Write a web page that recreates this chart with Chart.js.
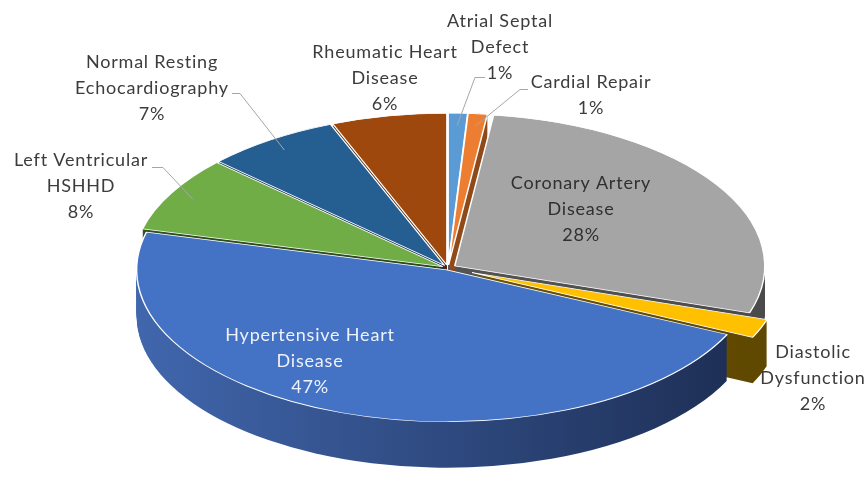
<!DOCTYPE html>
<html lang="en">
  <head>
    <meta charset="UTF-8" />
    <title>Echo diagnoses</title>
    <script src="https://cdn.jsdelivr.net/npm/chart.js"></script>
    <style>
      html, body { margin: 0; padding: 0; background: #ffffff; }
      #wrap { width: 866px; height: 497px; }
    </style>
  </head>
  <body>
    <div id="wrap"><canvas id="pieChart" width="866" height="497"></canvas></div>
    <script>
      // data, in Excel order (clockwise from 12 o'clock)
      const categories = [
        "Atrial Septal Defect",
        "Cardial Repair",
        "Coronary Artery Disease",
        "Diastolic Dysfunction",
        "Hypertensive Heart Disease",
        "Left Ventricular HSHHD",
        "Normal Resting Echocardiography",
        "Rheumatic Heart Disease",
      ];
      const percents = [1, 1, 28, 2, 47, 8, 7, 6];

      // how the category names are wrapped in the labels
      const labelLines = [
        ["Atrial Septal", "Defect"],
        ["Cardial Repair"],
        ["Coronary Artery", "Disease"],
        ["Diastolic", "Dysfunction"],
        ["Hypertensive Heart", "Disease"],
        ["Left Ventricular", "HSHHD"],
        ["Normal Resting", "Echocardiography"],
        ["Rheumatic Heart", "Disease"],
      ];

      // styles
      const topColors = ["#5B9BD5", "#ED7D31", "#A5A5A5", "#FFC000", "#4472C4", "#70AD47", "#255E91", "#9E480E"];
      const sideLeft = ["#3b6e9e", "#a8561f", "#5e5e5e", "#7f6000", "#4167ae", "#2f4f1c", "#173b5d", "#5e2b08"];
      const sideRight = ["#2b5279", "#7a3d14", "#4a4a4a", "#5e4700", "#1b2b4f", "#2a4419", "#102a44", "#4a2106"];
      const explode = [6, 6, 8, 26, 4, 6, 6, 6];
      const labelColors = ["#3c3c3c", "#3c3c3c", "#303030", "#3c3c3c", "#eef2fa", "#3c3c3c", "#3c3c3c", "#3c3c3c"];
      // centre x and first-line y of each label
      const labelPos = [
        [500, 21], [591, 82], [581, 183], [813, 352],
        [310, 335], [81, 160], [152, 62], [385, 52],
      ];
      // leader lines: [x text side, x elbow, y]
      const leaders = { 0: [485, 475, 77], 1: [528, 520, 89], 5: [152, 163, 167], 6: [232, 240, 93] };

      const TILT = 0.49;    // vertical squash of the pie
      const DEPTH = 46;     // thickness in screen px
      const LINE_H = 26;

      const pie3d = {
        id: "pie3d",
        afterDatasetsUpdate(chart) {
          const arcs = chart.getDatasetMeta(0).data;
          arcs.forEach((arc, i) => {
            const mid = (arc.startAngle + arc.endAngle) / 2;
            arc.x += Math.cos(mid) * explode[i];
            arc.y += Math.sin(mid) * explode[i];
          });
        },
        beforeDatasetsDraw(chart) {
          const ctx = chart.ctx;
          const area = chart.chartArea;
          const cy = (area.top + area.bottom) / 2;
          const arcs = chart.getDatasetMeta(0).data;
          ctx.save();
          ctx.translate(0, cy);
          ctx.scale(1, TILT);
          ctx.translate(0, -cy);

          // side walls, back slices first
          const order = arcs.map((a, i) => i).sort((a, b) => {
            const ma = (arcs[a].startAngle + arcs[a].endAngle) / 2;
            const mb = (arcs[b].startAngle + arcs[b].endAngle) / 2;
            return Math.sin(ma) - Math.sin(mb);
          });
          order.forEach((i) => {
            const arc = arcs[i];
            const grad = ctx.createLinearGradient(area.left + 100, 0, area.right - 90, 0);
            grad.addColorStop(0, sideLeft[i]);
            grad.addColorStop(1, sideRight[i]);
            ctx.fillStyle = grad;
            for (let t = DEPTH; t >= 1; t--) {
              const dy = t / TILT;
              ctx.beginPath();
              ctx.moveTo(arc.x, arc.y + dy);
              ctx.arc(arc.x, arc.y + dy, arc.outerRadius, arc.startAngle, arc.endAngle);
              ctx.closePath();
              ctx.fill();
            }
          });
        },
        afterDatasetsDraw(chart) {
          chart.ctx.restore();
        },
        afterDraw(chart) {
          const ctx = chart.ctx;
          const area = chart.chartArea;
          const cy = (area.top + area.bottom) / 2;
          const arcs = chart.getDatasetMeta(0).data;

          // leader lines
          ctx.save();
          ctx.strokeStyle = "#a6a6a6";
          ctx.lineWidth = 1;
          Object.keys(leaders).forEach((key) => {
            const i = +key;
            const arc = arcs[i];
            const mid = (arc.startAngle + arc.endAngle) / 2;
            const r = arc.outerRadius * 0.92;
            const ex = arc.x + Math.cos(mid) * r;
            const ey = cy + (arc.y + Math.sin(mid) * r - cy) * TILT;
            const [x1, x2, y] = leaders[i];
            ctx.beginPath();
            ctx.moveTo(x1, y + 0.5);
            ctx.lineTo(x2, y + 0.5);
            ctx.lineTo(ex, ey);
            ctx.stroke();
          });
          ctx.restore();

          // labels
          ctx.save();
          ctx.font = "18px Lato, 'Open Sans', sans-serif";
          ctx.letterSpacing = "0.8px";
          ctx.textAlign = "center";
          ctx.textBaseline = "middle";
          categories.forEach((name, i) => {
            const lines = labelLines[i].concat([percents[i] + "%"]);
            ctx.fillStyle = labelColors[i];
            lines.forEach((line, j) => {
              ctx.fillText(line, labelPos[i][0], labelPos[i][1] + j * LINE_H);
            });
          });
          ctx.restore();
        },
      };

      new Chart(document.getElementById("pieChart"), {
        type: "pie",
        data: {
          labels: categories,
          datasets: [
            {
              data: percents,
              backgroundColor: topColors,
              borderColor: "#ffffff",
              borderWidth: 1.5,
              clip: false,
            },
          ],
        },
        options: {
          responsive: false,
          animation: false,
          devicePixelRatio: 1,
          radius: 310,
          layout: { padding: { left: 30, top: 39, right: 0, bottom: 0 } },
          plugins: {
            legend: { display: false },
            tooltip: { enabled: false },
          },
        },
        plugins: [pie3d],
      });
    </script>
  </body>
</html>
